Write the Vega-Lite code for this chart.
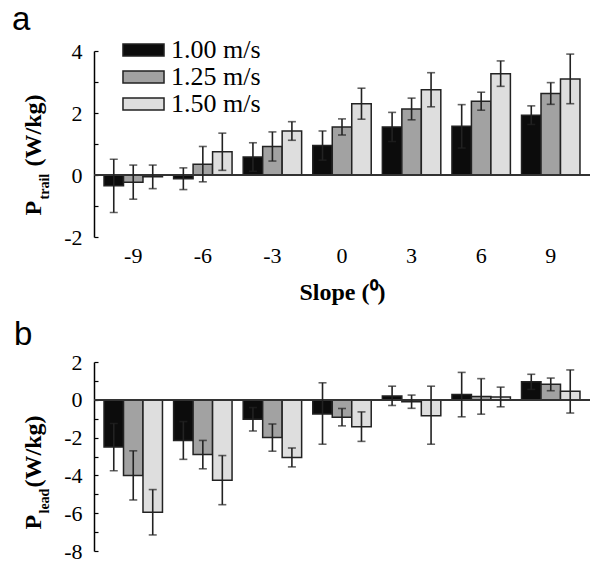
{
  "$schema": "https://vega.github.io/schema/vega-lite/v6.json",
  "background": "white",
  "padding": {"left": 12, "top": 4, "right": 5, "bottom": 5},
  "datasets": {
    "trail": [
      {"slope": -9, "speed": "1.00 m/s", "mean": -0.35, "lo": -1.21, "hi": 0.51},
      {"slope": -9, "speed": "1.25 m/s", "mean": -0.23, "lo": -0.78, "hi": 0.32},
      {"slope": -9, "speed": "1.50 m/s", "mean": -0.06, "lo": -0.44, "hi": 0.32},
      {"slope": -6, "speed": "1.00 m/s", "mean": -0.12, "lo": -0.47, "hi": 0.23},
      {"slope": -6, "speed": "1.25 m/s", "mean": 0.35, "lo": -0.22, "hi": 0.92},
      {"slope": -6, "speed": "1.50 m/s", "mean": 0.75, "lo": 0.15, "hi": 1.35},
      {"slope": -3, "speed": "1.00 m/s", "mean": 0.58, "lo": 0.12, "hi": 1.04},
      {"slope": -3, "speed": "1.25 m/s", "mean": 0.92, "lo": 0.45, "hi": 1.39},
      {"slope": -3, "speed": "1.50 m/s", "mean": 1.42, "lo": 1.12, "hi": 1.72},
      {"slope": 0, "speed": "1.00 m/s", "mean": 0.95, "lo": 0.48, "hi": 1.42},
      {"slope": 0, "speed": "1.25 m/s", "mean": 1.55, "lo": 1.29, "hi": 1.81},
      {"slope": 0, "speed": "1.50 m/s", "mean": 2.3, "lo": 1.8, "hi": 2.8},
      {"slope": 3, "speed": "1.00 m/s", "mean": 1.55, "lo": 1.08, "hi": 2.02},
      {"slope": 3, "speed": "1.25 m/s", "mean": 2.13, "lo": 1.78, "hi": 2.48},
      {"slope": 3, "speed": "1.50 m/s", "mean": 2.75, "lo": 2.2, "hi": 3.3},
      {"slope": 6, "speed": "1.00 m/s", "mean": 1.57, "lo": 0.87, "hi": 2.27},
      {"slope": 6, "speed": "1.25 m/s", "mean": 2.38, "lo": 2.09, "hi": 2.67},
      {"slope": 6, "speed": "1.50 m/s", "mean": 3.27, "lo": 2.86, "hi": 3.68},
      {"slope": 9, "speed": "1.00 m/s", "mean": 1.93, "lo": 1.63, "hi": 2.23},
      {"slope": 9, "speed": "1.25 m/s", "mean": 2.63, "lo": 2.28, "hi": 2.98},
      {"slope": 9, "speed": "1.50 m/s", "mean": 3.1, "lo": 2.3, "hi": 3.9}
    ],
    "lead": [
      {"slope": -9, "speed": "1.00 m/s", "mean": -2.5, "lo": -3.75, "hi": -1.25},
      {"slope": -9, "speed": "1.25 m/s", "mean": -4.0, "lo": -5.3, "hi": -2.7},
      {"slope": -9, "speed": "1.50 m/s", "mean": -5.95, "lo": -7.15, "hi": -4.75},
      {"slope": -6, "speed": "1.00 m/s", "mean": -2.15, "lo": -3.15, "hi": -1.15},
      {"slope": -6, "speed": "1.25 m/s", "mean": -2.9, "lo": -3.65, "hi": -2.15},
      {"slope": -6, "speed": "1.50 m/s", "mean": -4.25, "lo": -5.55, "hi": -2.95},
      {"slope": -3, "speed": "1.00 m/s", "mean": -1.03, "lo": -1.65, "hi": -0.41},
      {"slope": -3, "speed": "1.25 m/s", "mean": -2.0, "lo": -2.72, "hi": -1.28},
      {"slope": -3, "speed": "1.50 m/s", "mean": -3.05, "lo": -3.55, "hi": -2.55},
      {"slope": 0, "speed": "1.00 m/s", "mean": -0.75, "lo": -2.35, "hi": 0.9},
      {"slope": 0, "speed": "1.25 m/s", "mean": -0.92, "lo": -1.38, "hi": -0.46},
      {"slope": 0, "speed": "1.50 m/s", "mean": -1.42, "lo": -2.2, "hi": -0.64},
      {"slope": 3, "speed": "1.00 m/s", "mean": 0.2, "lo": -0.3, "hi": 0.72},
      {"slope": 3, "speed": "1.25 m/s", "mean": -0.1, "lo": -0.45, "hi": 0.25},
      {"slope": 3, "speed": "1.50 m/s", "mean": -0.85, "lo": -2.35, "hi": 0.72},
      {"slope": 6, "speed": "1.00 m/s", "mean": 0.28, "lo": -0.9, "hi": 1.45},
      {"slope": 6, "speed": "1.25 m/s", "mean": 0.18, "lo": -0.76, "hi": 1.12},
      {"slope": 6, "speed": "1.50 m/s", "mean": 0.15, "lo": -0.37, "hi": 0.67},
      {"slope": 9, "speed": "1.00 m/s", "mean": 0.95, "lo": 0.55, "hi": 1.35},
      {"slope": 9, "speed": "1.25 m/s", "mean": 0.82, "lo": 0.48, "hi": 1.15},
      {"slope": 9, "speed": "1.50 m/s", "mean": 0.45, "lo": -0.7, "hi": 1.58}
    ]
  },
  "config": {
    "view": {"stroke": null},
    "font": "'Liberation Serif', 'Times New Roman', Times, serif",
    "axis": {"labelFont": "'Liberation Serif', 'Times New Roman', Times, serif", "titleFont": "'Liberation Serif', 'Times New Roman', Times, serif", "labelColor": "black", "titleColor": "black", "grid": false},
    "legend": {"labelFont": "'Liberation Serif', 'Times New Roman', Times, serif"}
  },
  "bounds": "flush",
  "spacing": 125,
  "vconcat": [
    {
      "width": 496,
      "height": 186,
      "data": {"name": "trail"},
      "title": {"text": "a", "anchor": "start", "frame": "group", "font": "'Liberation Sans', Arial, Helvetica, sans-serif", "fontSize": 33, "fontWeight": "normal", "color": "black", "dx": -82, "offset": 3},
      "encoding": {
        "x": {"field": "slope", "type": "ordinal", "scale": {"paddingInner": 0.16, "paddingOuter": 0.144},
          "axis": {"orient": "bottom", "domain": false, "ticks": false, "labelAngle": 0, "labelFontSize": 22, "labelPadding": 8, "title": "Slope (⁰)", "titleFontSize": 24, "titleFontWeight": "bold", "titlePadding": 14}},
        "xOffset": {"field": "speed", "type": "nominal", "scale": {"paddingInner": 0, "paddingOuter": 0}}
      },
      "layer": [
        {
          "mark": {"type": "bar", "stroke": "#222222", "strokeWidth": 1.5},
          "encoding": {
            "y": {"field": "mean", "type": "quantitative", "scale": {"domain": [-2, 4], "nice": false, "zero": false},
              "axis": {"orient": "left", "values": [-2, -1, 0, 1, 2, 3, 4], "labelExpr": "datum.value % 2 == 0 ? '' + datum.value : ''", "labelFontSize": 22, "labelPadding": 16, "tickSize": -4, "tickColor": "black", "tickWidth": 1.2, "domainColor": "black", "domainWidth": 1.5,
                "title": "P", "titleFontSize": 24, "titleFontWeight": "bold", "titleAngle": 270, "titleAlign": "left", "titleBaseline": "alphabetic", "titleX": -54, "titleY": 164}},
            "color": {"field": "speed", "type": "nominal",
              "scale": {"domain": ["1.00 m/s", "1.25 m/s", "1.50 m/s"], "range": ["#0c0c0c", "#a2a2a2", "#dedede"]},
              "legend": {"title": null, "orient": "none", "legendX": 36.5, "legendY": -14, "padding": 0,
                "symbolType": "M-3.42,-1H3.42V1H-3.42Z", "symbolSize": 144, "symbolStrokeColor": "#222222", "symbolStrokeWidth": 1.5, "symbolOpacity": 1,
                "labelFontSize": 26, "labelColor": "black", "labelOffset": 14.5, "labelBaseline": "middle", "rowPadding": 1}}
          }
        },
        {
          "mark": {"type": "rule", "color": "#333333", "strokeWidth": 1.5},
          "encoding": {"y": {"datum": 0, "axis": null}, "x": null, "xOffset": null}
        },
        {
          "mark": {"type": "rule", "color": "#222222", "strokeWidth": 1.6},
          "encoding": {
            "y": {"field": "lo", "type": "quantitative", "axis": {"orient": "left", "domain": false, "ticks": false, "labels": false,
              "title": "trail", "titleFontSize": 14, "titleFontWeight": "bold", "titleAngle": 270, "titleAlign": "left", "titleBaseline": "alphabetic", "titleX": -46, "titleY": 148}},
            "y2": {"field": "hi"}
          }
        },
        {
          "mark": {"type": "tick", "color": "#222222", "size": 8, "thickness": 1.6},
          "encoding": {
            "y": {"field": "lo", "type": "quantitative", "axis": {"orient": "left", "domain": false, "ticks": false, "labels": false,
              "title": "(W/kg)", "titleFontSize": 24, "titleFontWeight": "bold", "titleAngle": 270, "titleAlign": "left", "titleBaseline": "alphabetic", "titleX": -54, "titleY": 115}}
          }
        },
        {
          "mark": {"type": "tick", "color": "#222222", "size": 8, "thickness": 1.6},
          "encoding": {"y": {"field": "hi", "type": "quantitative", "axis": null}}
        }
      ],
      "resolve": {"axis": {"y": "independent"}}
    },
    {
      "width": 496,
      "height": 189,
      "data": {"name": "lead"},
      "title": {"text": "b", "anchor": "start", "frame": "group", "font": "'Liberation Sans', Arial, Helvetica, sans-serif", "fontSize": 33, "fontWeight": "normal", "color": "black", "dx": -80, "dy": 7, "offset": 6},
      "encoding": {
        "x": {"field": "slope", "type": "ordinal", "scale": {"paddingInner": 0.16, "paddingOuter": 0.144}, "axis": null},
        "xOffset": {"field": "speed", "type": "nominal", "scale": {"paddingInner": 0, "paddingOuter": 0}}
      },
      "layer": [
        {
          "mark": {"type": "bar", "stroke": "#222222", "strokeWidth": 1.5},
          "encoding": {
            "y": {"field": "mean", "type": "quantitative", "scale": {"domain": [-8, 2], "nice": false, "zero": false},
              "axis": {"orient": "left", "values": [-8, -7, -6, -5, -4, -3, -2, -1, 0, 1, 2], "labelExpr": "datum.value % 2 == 0 ? '' + datum.value : ''", "labelFontSize": 22, "labelPadding": 16, "tickSize": -4, "tickColor": "black", "tickWidth": 1.2, "domainColor": "black", "domainWidth": 1.5,
                "title": "P", "titleFontSize": 24, "titleFontWeight": "bold", "titleAngle": 270, "titleAlign": "left", "titleBaseline": "alphabetic", "titleX": -54, "titleY": 167}},
            "color": {"field": "speed", "type": "nominal",
              "scale": {"domain": ["1.00 m/s", "1.25 m/s", "1.50 m/s"], "range": ["#0c0c0c", "#a2a2a2", "#dedede"]},
              "legend": null}
          }
        },
        {
          "mark": {"type": "rule", "color": "#333333", "strokeWidth": 1.5},
          "encoding": {"y": {"datum": 0, "axis": null}, "x": null, "xOffset": null}
        },
        {
          "mark": {"type": "rule", "color": "#222222", "strokeWidth": 1.6},
          "encoding": {
            "y": {"field": "lo", "type": "quantitative", "axis": {"orient": "left", "domain": false, "ticks": false, "labels": false,
              "title": "lead", "titleFontSize": 14, "titleFontWeight": "bold", "titleAngle": 270, "titleAlign": "left", "titleBaseline": "alphabetic", "titleX": -46, "titleY": 151}},
            "y2": {"field": "hi"}
          }
        },
        {
          "mark": {"type": "tick", "color": "#222222", "size": 8, "thickness": 1.6},
          "encoding": {
            "y": {"field": "lo", "type": "quantitative", "axis": {"orient": "left", "domain": false, "ticks": false, "labels": false,
              "title": "(W/kg)", "titleFontSize": 24, "titleFontWeight": "bold", "titleAngle": 270, "titleAlign": "left", "titleBaseline": "alphabetic", "titleX": -54, "titleY": 125}}
          }
        },
        {
          "mark": {"type": "tick", "color": "#222222", "size": 8, "thickness": 1.6},
          "encoding": {"y": {"field": "hi", "type": "quantitative", "axis": null}}
        }
      ],
      "resolve": {"axis": {"y": "independent"}}
    }
  ]
}
